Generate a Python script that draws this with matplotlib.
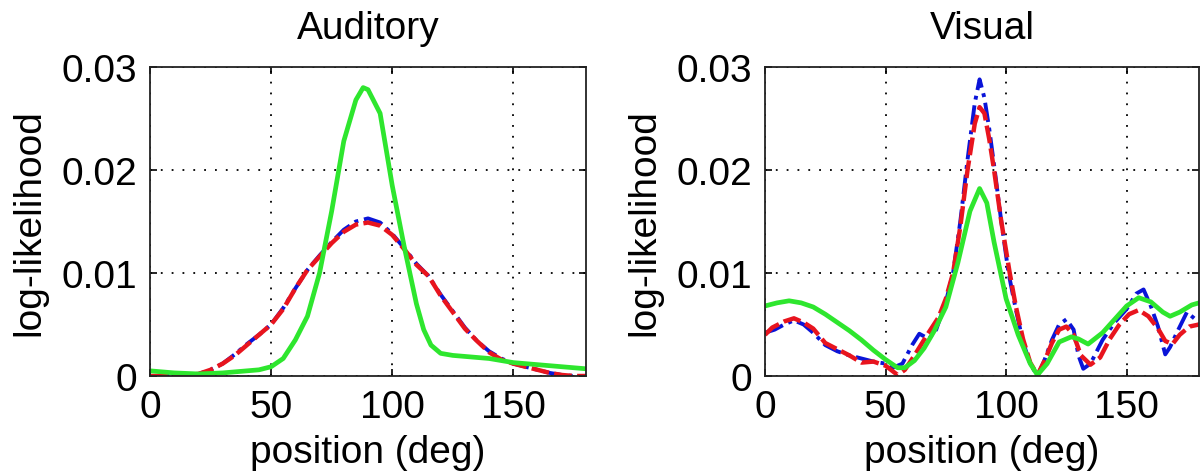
import numpy as np
import matplotlib
matplotlib.use('Agg')
import matplotlib.pyplot as plt

# Auditory panel
aud_x_rb = [0, 10, 20, 25, 30, 35, 40, 45, 50, 55, 60, 65, 70, 75, 80, 85, 90, 95,
            100, 105, 110, 115, 120, 125, 130, 135, 140, 145, 150, 155, 160, 165, 170, 175, 180]
aud_red = [0.0000, 0.0000, 0.0002, 0.0006, 0.0012, 0.0020, 0.0030, 0.0040, 0.0050, 0.0065,
           0.0085, 0.0103, 0.0116, 0.0129, 0.0140, 0.0147, 0.0149, 0.0146, 0.0137, 0.0123,
           0.0108, 0.0097, 0.0078, 0.0062, 0.0046, 0.0034, 0.0023, 0.0016, 0.0012, 0.0009,
           0.0006, 0.0003, 0.0001, 0.0000, 0.0000]
aud_blue = [0.0000, 0.0000, 0.0002, 0.0006, 0.0012, 0.0021, 0.0031, 0.0040, 0.0050, 0.0066,
            0.0085, 0.0103, 0.0117, 0.0130, 0.0142, 0.0150, 0.0153, 0.0149, 0.0138, 0.0124,
            0.0109, 0.0097, 0.0079, 0.0063, 0.0047, 0.0034, 0.0024, 0.0017, 0.0012, 0.0009,
            0.0006, 0.0003, 0.0001, 0.0000, 0.0000]
aud_x_g = [0, 10, 20, 30, 40, 45, 50, 55, 60, 65, 70, 75, 80, 85, 88, 90, 95, 100, 105,
           110, 113, 116, 120, 125, 130, 140, 150, 160, 170, 180]
aud_green = [0.0005, 0.0003, 0.0002, 0.0003, 0.0005, 0.0006, 0.0009, 0.0017, 0.0035, 0.0058,
             0.0100, 0.0160, 0.0228, 0.0268, 0.0280, 0.0278, 0.0255, 0.0185, 0.0125,
             0.0070, 0.0045, 0.0030, 0.0022, 0.0020, 0.0019, 0.0017, 0.0013, 0.0011, 0.0009, 0.0007]

# Visual panel
vis_x_r = [0, 3, 8, 12, 16, 20, 25, 30, 35, 40, 45, 50, 55, 58, 62, 67, 72, 75, 78, 81, 84,
           87, 89, 91, 93, 95, 98, 101.5, 104, 107, 110, 113, 116, 119, 122, 125, 128, 131,
           135, 139, 143, 147, 151, 155, 159, 163, 166, 169, 172, 176, 180]
vis_red = [0.0040, 0.0047, 0.0053, 0.0056, 0.0052, 0.0046, 0.0032, 0.0026, 0.0020, 0.0013,
           0.0014, 0.0010, 0.0001, 0.0006, 0.0020, 0.0039, 0.0057, 0.0075, 0.0100, 0.0145,
           0.0200, 0.0245, 0.0261, 0.0255, 0.0230, 0.0200, 0.0150, 0.0100, 0.0068, 0.0036,
           0.0013, 0.0001, 0.0015, 0.0032, 0.0045, 0.0048, 0.0040, 0.0020, 0.0011, 0.0018,
           0.0036, 0.0050, 0.0060, 0.0064, 0.0058, 0.0046, 0.0034, 0.0031, 0.0040, 0.0048, 0.0050]
vis_x_b = [0, 4, 8, 12, 16, 20, 25, 30, 35, 40, 45, 50, 53, 57, 61, 64, 68, 71, 75, 78, 81,
           84, 87, 89, 91, 93, 95, 98, 101, 104, 107, 110, 113, 116, 119, 122, 125, 128, 130,
           132, 135, 140, 145, 150, 154, 157, 160, 163, 166, 168, 171, 175, 178, 180]
vis_blue = [0.0042, 0.0045, 0.0050, 0.0054, 0.0050, 0.0042, 0.0030, 0.0024, 0.0020, 0.0017,
            0.0014, 0.0012, 0.0008, 0.0012, 0.0030, 0.0041, 0.0036, 0.0045, 0.0072, 0.0100,
            0.0150, 0.0210, 0.0265, 0.0288, 0.0270, 0.0240, 0.0205, 0.0150, 0.0100, 0.0065,
            0.0033, 0.0012, 0.0000, 0.0016, 0.0035, 0.0050, 0.0055, 0.0045, 0.0020, 0.0007,
            0.0012, 0.0035, 0.0052, 0.0065, 0.0080, 0.0084, 0.0068, 0.0048, 0.0021, 0.0028,
            0.0043, 0.0062, 0.0056, 0.0050]
vis_x_g = [0, 5, 10, 15, 20, 25, 30, 35, 40, 45, 50, 55, 58, 62, 66, 70, 75, 80, 85, 89, 92,
           95, 100, 105, 110, 113, 117, 122, 127, 130, 134, 140, 145, 150, 155, 160, 165, 168,
           172, 177, 180]
vis_green = [0.0068, 0.0071, 0.0073, 0.0071, 0.0067, 0.0060, 0.0052, 0.0044, 0.0035, 0.0025,
             0.0016, 0.0008, 0.0008, 0.0015, 0.0027, 0.0043, 0.0067, 0.0110, 0.0160, 0.0182,
             0.0168, 0.0130, 0.0075, 0.0040, 0.0012, 0.0001, 0.0012, 0.0033, 0.0038, 0.0036,
             0.0031, 0.0042, 0.0055, 0.0068, 0.0076, 0.0072, 0.0062, 0.0058, 0.0062, 0.0069, 0.0071]

xticks = [0, 50, 100, 150]
yticks = [0, 0.01, 0.02, 0.03]
ytick_labels = ['0', '0.01', '0.02', '0.03']

plt.rcParams['font.family'] = ['Liberation Sans', 'DejaVu Sans']

BLUE = '#0a14d8'
RED = '#e8141e'
GREEN = '#2ee62e'

fig = plt.figure(figsize=(12.01, 4.77), dpi=100)
ax1 = fig.add_axes([150 / 1201, 100 / 477, 436 / 1201, 309 / 477])
ax2 = fig.add_axes([765 / 1201, 100 / 477, 434 / 1201, 309 / 477])

panels = [
    (ax1, 'Auditory', aud_x_rb, aud_blue, aud_x_rb, aud_red, aud_x_g, aud_green),
    (ax2, 'Visual', vis_x_b, vis_blue, vis_x_r, vis_red, vis_x_g, vis_green),
]

for ax, title, xb, yb, xr, yr, xg, yg in panels:
    ax.plot(xb, yb, color=BLUE, lw=2.8, linestyle=(0, (5, 1.5, 1, 1.5)))
    ax.plot(xr, yr, color=RED, lw=3.2, linestyle=(0, (4, 1.2)))
    ax.plot(xg, yg, color=GREEN, lw=3.4, solid_joinstyle='round')
    ax.set_xlim(0, 180)
    ax.set_ylim(0, 0.03)
    ax.set_xticks(xticks)
    ax.set_yticks(yticks)
    ax.set_yticklabels(ytick_labels)
    ax.grid(True, color='k', linestyle=(0, (1, 5)), linewidth=1.3)
    ax.tick_params(direction='in', length=5, width=1.2, top=True, right=True,
                   labelsize=28, pad=9.5)
    for sp in ax.spines.values():
        sp.set_linewidth(1.3)
        sp.set_color('#222222')
    ax.set_title(title, fontsize=28, pad=21)
    ax.set_xlabel('position (deg)', fontsize=28, labelpad=6)
    ax.set_ylabel('log-likelihood', fontsize=28, labelpad=10)

fig.savefig('out.png', dpi=100)
